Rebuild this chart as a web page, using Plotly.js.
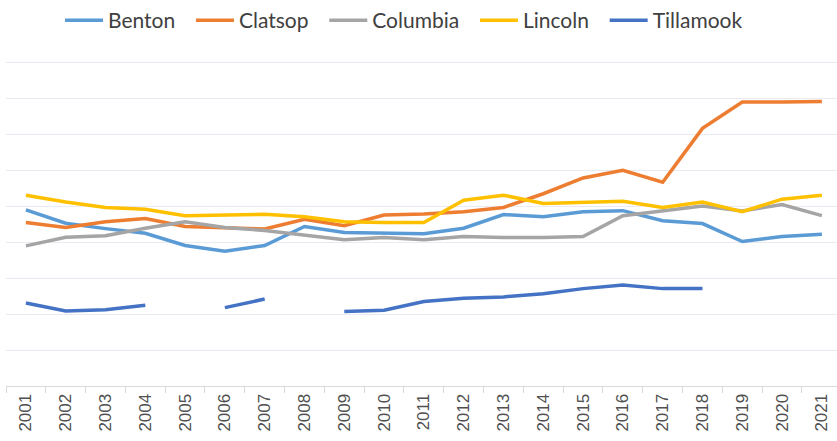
<!DOCTYPE html>
<html>
<head>
<meta charset="utf-8">
<script src="https://cdn.plot.ly/plotly-3.0.1.min.js"></script>
<style>html,body{margin:0;padding:0;background:#fff;}#chart{width:837px;height:441px;}</style>
</head>
<body>
<div id="chart"></div>
<script>
const years = ['2001','2002','2003','2004','2005','2006','2007','2008','2009','2010','2011','2012','2013','2014','2015','2016','2017','2018','2019','2020','2021'];
const benton    = [4.90,4.53,4.38,4.25,3.91,3.75,3.91,4.44,4.27,4.25,4.24,4.39,4.77,4.71,4.85,4.88,4.60,4.52,4.02,4.16,4.22];
const clatsop   = [4.55,4.41,4.57,4.66,4.44,4.41,4.37,4.64,4.46,4.76,4.79,4.85,4.97,5.35,5.79,6.00,5.67,7.17,7.90,7.90,7.92];
const columbia  = [3.90,4.14,4.18,4.39,4.57,4.41,4.33,4.20,4.07,4.13,4.07,4.16,4.13,4.13,4.16,4.74,4.88,5.01,4.87,5.05,4.74];
const lincoln   = [5.31,5.12,4.97,4.92,4.74,4.76,4.78,4.71,4.57,4.55,4.55,5.17,5.31,5.08,5.10,5.14,4.97,5.12,4.85,5.20,5.31];
const tillamook = [2.31,2.09,2.12,2.25,null,2.18,2.42,null,2.07,2.11,2.35,2.44,2.48,2.57,2.71,2.81,2.71,2.71,null,null,null];

const seriesNames = ['Benton','Clatsop','Columbia','Lincoln','Tillamook'];
const seriesData = [benton, clatsop, columbia, lincoln, tillamook];
const colors = ['#5B9BD5','#ED7D31','#A5A5A5','#FFC000','#4472C4'];
const pad = '\u00a0\u00a0';

const traces = seriesNames.map((n,i)=>({
  type:'scatter', mode:'lines', name:n + pad, x:years, y:seriesData[i],
  connectgaps:false,
  line:{color:colors[i], width:3.5}
}));

const layout = {
  width:837, height:441,
  margin:{l:6, r:0, t:55, b:55},
  paper_bgcolor:'#fff', plot_bgcolor:'#fff',
  font:{family:'Lato, "Liberation Sans", sans-serif', color:'#404040'},
  showlegend:true,
  legend:{orientation:'h', x:0.065, xanchor:'left', y:1.119, yanchor:'middle',
          font:{size:21, color:'#404040'}, itemwidth:38, tracegroupgap:0},
  xaxis:{type:'category', range:[-0.5,20.38], tickangle:-90,
         tickfont:{size:17, color:'#505050', family:'"Liberation Sans", Arial, sans-serif'},
         showgrid:false, showline:true, linecolor:'#d9d9d9', linewidth:1,
         ticks:'outside', tickson:'boundaries', ticklen:6, tickcolor:'#d9d9d9', zeroline:false},
  yaxis:{range:[0,9.1], dtick:1, showticklabels:false, showgrid:true,
         gridcolor:'#e9eaf2', gridwidth:1, zeroline:false, showline:false, ticks:''}
};
Plotly.newPlot('chart', traces, layout, {displayModeBar:false, staticPlot:true});
</script>
</body>
</html>
